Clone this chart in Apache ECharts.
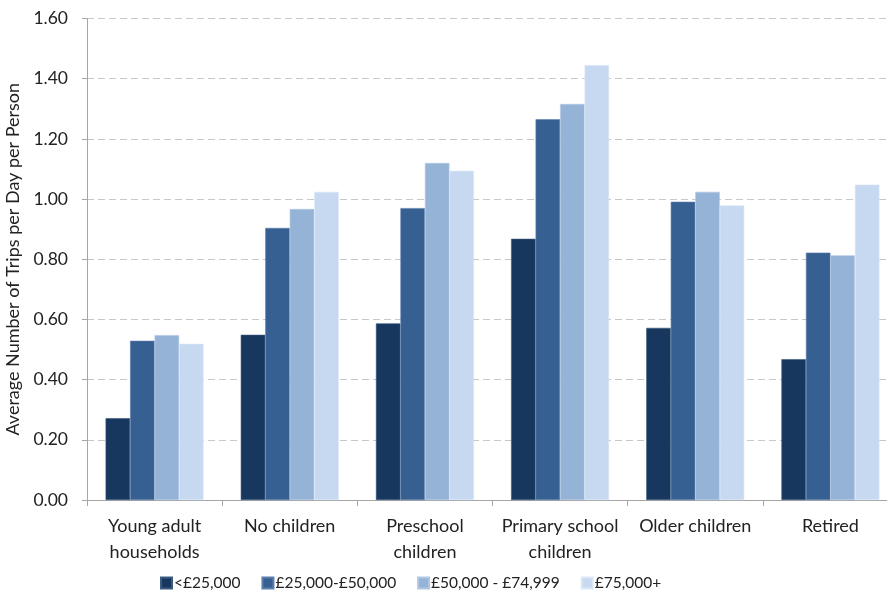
<!DOCTYPE html>
<html>
<head>
<meta charset="utf-8">
<script src="https://cdn.jsdelivr.net/npm/echarts@6/dist/echarts.min.js"></script>
<style>
html,body{margin:0;padding:0;background:#fff;}
#chart{width:887px;height:593px;}
</style>
</head>
<body>
<div id="chart"></div>
<script>
const categories = ["Young adult\nhouseholds", "No children", "Preschool\nchildren", "Primary school\nchildren", "Older children", "Retired"];
const seriesNames = ["<£25,000", "£25,000-£50,000", "£50,000 - £74,999", "£75,000+"];
const under25k = [0.272, 0.549, 0.587, 0.868, 0.572, 0.468];
const from25to50k = [0.529, 0.904, 0.970, 1.265, 0.991, 0.822];
const from50to75k = [0.548, 0.967, 1.120, 1.316, 1.024, 0.813];
const over75k = [0.519, 1.024, 1.094, 1.445, 0.979, 1.048];
const yTicks = {min: 0, max: 1.6, interval: 0.2};

const colors = ["#17375e", "#366092", "#95b3d7", "#c6d9f0"];
const borderColors = ["#3c5a80", "#5b7eab", "#b0c7e3", "#dbe7f6"];
const dataSets = [under25k, from25to50k, from50to75k, over75k];
const FONT = "Lato";

const chart = echarts.init(document.getElementById('chart'));
chart.setOption({
  animation: false,
  backgroundColor: '#fff',
  textStyle: {fontFamily: FONT},
  grid: {left: 87, right: -11, top: 18.5, bottom: 93, containLabel: false, outerBoundsMode: 'none'},
  legend: {
    bottom: -3,
    left: 155,
    itemWidth: 11,
    itemHeight: 11,
    itemGap: 21,
    icon: 'rect',
    textStyle: {fontFamily: FONT, fontSize: 15.5, color: '#222', padding: [0,0,0,-3]},
    data: seriesNames
  },
  xAxis: {
    type: 'category',
    data: categories,
    axisLine: {lineStyle: {color: '#a6a6a6', width: 1}},
    axisTick: {show: true, length: 6, lineStyle: {color: '#a6a6a6'}},
    axisLabel: {fontFamily: FONT, fontSize: 18, color: '#222', margin: 13, lineHeight: 26, interval: 0}
  },
  yAxis: {
    type: 'value',
    min: yTicks.min, max: yTicks.max, interval: yTicks.interval,
    name: 'Average Number of Trips per Day per Person',
    nameLocation: 'middle',
    nameGap: 62,
    nameTextStyle: {fontFamily: FONT, fontSize: 18, color: '#222'},
    axisLine: {show: true, lineStyle: {color: '#a6a6a6', width: 1}},
    axisTick: {show: true, length: 5, lineStyle: {color: '#a6a6a6'}},
    axisLabel: {fontFamily: FONT, fontSize: 17.5, color: '#222', margin: 19,
      formatter: v => v.toFixed(2)},
    splitLine: {show: true, lineStyle: {color: '#c8c8c8', type: [7,4], width: 1.2}}
  },
  series: seriesNames.map((n, i) => ({
    name: n,
    type: 'bar',
    data: dataSets[i],
    barGap: '0%',
    barCategoryGap: '27.5%',
    itemStyle: {color: colors[i], borderColor: borderColors[i], borderWidth: 0.6}
  }))
});
</script>
</body>
</html>
